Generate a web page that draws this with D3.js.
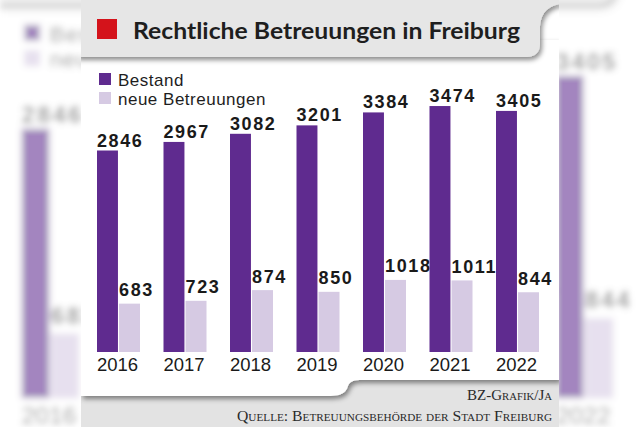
<!DOCTYPE html>
<html>
<head>
<meta charset="utf-8">
<script src="https://cdn.jsdelivr.net/npm/d3@7"></script>
<style>
  html, body { margin: 0; padding: 0; background: #fff; }
  svg { display: block; }
</style>
</head>
<body>
<svg id="chart" width="640" height="427"></svg>
<script>
// ---- data ----
const years = ["2016", "2017", "2018", "2019", "2020", "2021", "2022"];
const bestand = [2846, 2967, 3082, 3201, 3384, 3474, 3405];
const neue = [683, 723, 874, 850, 1018, 1011, 844];
const seriesNames = ["Bestand", "neue Betreuungen"];
const seriesColors = ["#5f2b8f", "#d6cae3"];
const titleText = "Rechtliche Betreuungen in Freiburg";
const creditText = "BZ-Grafik/Ja";
const sourceText = "Quelle: Betreuungsbehörde der Stadt Freiburg";

const W = 640, H = 427;
const panelX0 = 81, panelX1 = 559;
const svg = d3.select("#chart");
const defs = svg.append("defs");

const shadow = defs.append("filter").attr("id", "shadow")
  .attr("x", "-10%").attr("y", "-20%").attr("width", "130%").attr("height", "150%");
shadow.append("feDropShadow").attr("dx", 2).attr("dy", 3).attr("stdDeviation", 2.5)
  .attr("flood-color", "#000").attr("flood-opacity", 0.45);

const blur = defs.append("filter").attr("id", "blur")
  .attr("x", "-5%").attr("y", "-5%").attr("width", "110%").attr("height", "110%");
blur.append("feGaussianBlur").attr("stdDeviation", 3);

defs.append("clipPath").attr("id", "panelClip")
  .append("rect").attr("x", panelX0).attr("y", 0).attr("width", panelX1 - panelX0).attr("height", H);

// scales
const x = d3.scaleBand().domain(years).range([97, 539]).paddingInner(0.3534).paddingOuter(0);
const xs = d3.scaleBand().domain(seriesNames).range([0, x.bandwidth()]).paddingInner(0.05);
const y = d3.scaleLinear().domain([0, 3500]).range([352, 352 - 3500 * 0.0708]);

function drawPanel(root) {
  const g = root.append("g").attr("clip-path", "url(#panelClip)");
  // footer (behind)
  g.append("rect").attr("x", panelX0).attr("y", 360).attr("width", panelX1 - panelX0).attr("height", H - 360)
    .attr("fill", "#e3e3e3");
  // white panel with lower outline
  g.append("path")
    .attr("d", `M${panelX0},40 H${panelX1} V380 H362 C354,380 350,381 348,386 C346,392 343,396 328,396 H${panelX0} Z`)
    .attr("fill", "#fff").attr("filter", "url(#shadow)");
  // header
  g.append("path")
    .attr("d", `M${panelX0 - 5},0 H${panelX1 + 5} V3 C549,5 541,12 540,26 V44 C540,52 535,57 527,57 H${panelX0 - 5} Z`)
    .attr("fill", "#e6e6e6").attr("filter", "url(#shadow)");
  g.append("rect").attr("x", 97).attr("y", 19).attr("width", 20).attr("height", 20).attr("fill", "#d4131b");
  g.append("text").attr("x", 133).attr("y", 39)
    .attr("font-family", "Lato, 'Open Sans', sans-serif").attr("font-weight", 700).attr("font-size", 23)
    .attr("fill", "#1e1e1e").attr("textLength", 387).attr("lengthAdjust", "spacingAndGlyphs")
    .text(titleText);

  // legend
  seriesNames.forEach((name, i) => {
    g.append("rect").attr("x", 99).attr("y", 73 + i * 19).attr("width", 12).attr("height", 12)
      .attr("fill", seriesColors[i]);
    g.append("text").attr("x", 118).attr("y", 86 + i * 18.5)
      .attr("font-family", "'Liberation Sans', Arial, sans-serif").attr("font-size", 17)
      .attr("letter-spacing", 0.5).attr("fill", "#1e1e1e").text(name);
  });

  // bars
  const seriesVals = [bestand, neue];
  const gaps = [4, 7.5];
  years.forEach((yr, i) => {
    seriesNames.forEach((s, k) => {
      const v = seriesVals[k][i];
      const bx = x(yr) + xs(s);
      g.append("rect").attr("x", bx).attr("y", y(v))
        .attr("width", xs.bandwidth()).attr("height", y(0) - y(v))
        .attr("fill", seriesColors[k]);
      g.append("text").attr("x", bx).attr("y", y(v) - gaps[k])
        .attr("font-family", "'Liberation Sans', Arial, sans-serif").attr("font-weight", 700)
        .attr("font-size", 18).attr("letter-spacing", 1.6).attr("fill", "#1a1a1a")
        .text(d3.format("d")(v));
    });
    g.append("text").attr("x", x(yr)).attr("y", 371)
      .attr("font-family", "'Liberation Sans', Arial, sans-serif").attr("font-size", 18.5)
      .attr("fill", "#1a1a1a").text(yr);
  });

  // footer texts
  g.append("text").attr("x", 552).attr("y", 400).attr("text-anchor", "end")
    .attr("font-family", "'Liberation Serif', 'DejaVu Serif', serif").attr("font-size", 14)
    .attr("font-variant", "small-caps").attr("fill", "#2a2a2a")
    .attr("textLength", 85).attr("lengthAdjust", "spacingAndGlyphs").text(creditText);
  g.append("text").attr("x", 552).attr("y", 421).attr("text-anchor", "end")
    .attr("font-family", "'Liberation Serif', 'DejaVu Serif', serif").attr("font-size", 14)
    .attr("font-variant", "small-caps").attr("fill", "#2a2a2a")
    .attr("textLength", 315).attr("lengthAdjust", "spacingAndGlyphs").text(sourceText);
  return g;
}

// blurred, enlarged background copy
const s = W / (panelX1 - panelX0);
const bg = svg.append("g")
  .attr("opacity", 0.57)
  .attr("filter", "url(#blur)");
const bgInner = bg.append("g").attr("transform", `translate(${-panelX0 * s},${-73}) scale(${s})`);
drawPanel(bgInner);

// main panel
svg.append("rect").attr("x", panelX0).attr("y", 0).attr("width", panelX1 - panelX0).attr("height", H).attr("fill", "#fff");
drawPanel(svg);
</script>
</body>
</html>
